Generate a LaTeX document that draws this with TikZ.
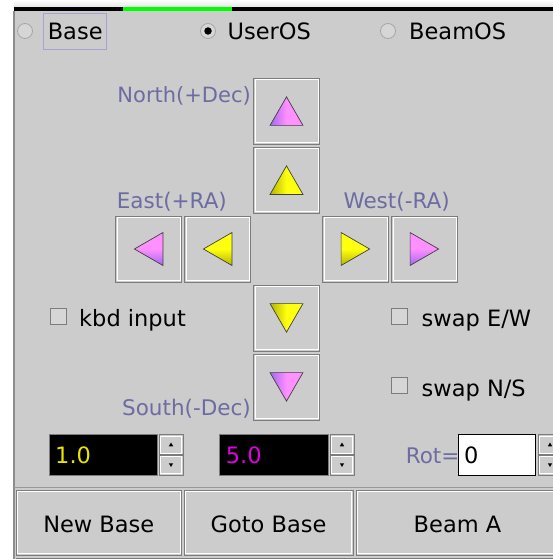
\documentclass[tikz,border=0pt]{standalone}
\usepackage{fontspec}
\setmainfont{DejaVu Sans}
\usetikzlibrary{matrix,shapes.geometric}

\definecolor{panel}{HTML}{CCCCCC}
\definecolor{edge}{HTML}{7C7C7C}
\definecolor{dirtext}{HTML}{6C6CA2}
\definecolor{magdark}{HTML}{A466F2}
\definecolor{maglight}{HTML}{FF90FF}
\definecolor{yeldark}{HTML}{B4B400}
\definecolor{yellight}{HTML}{FFFF10}
\definecolor{numyel}{HTML}{E6E600}
\definecolor{nummag}{HTML}{E000E0}
\definecolor{focus}{HTML}{A4A4D4}
\definecolor{boxfill}{HTML}{D6D6D6}

\begin{document}
\begin{tikzpicture}[x=1pt,y=-1pt,font=\fontsize{22.5}{27}\selectfont,
    btn/.style={draw=edge, fill=panel, line width=1pt, inner sep=0pt,
      path picture={\draw[white, line width=1pt]
        ([shift={(1.5pt,-1.5pt)}]path picture bounding box.north west) rectangle
        ([shift={(-1.5pt,1.5pt)}]path picture bounding box.south east);}},
    pad/.style={matrix of nodes, nodes={btn, minimum size=66pt}, column sep=2pt, row sep=2pt},
    txt/.style={anchor=base west, inner sep=0pt},
    dir/.style={txt, text=dirtext, font=\fontsize{21.5}{26}\selectfont},
    tri/.style={regular polygon, regular polygon sides=3, minimum size=38pt, inner sep=0pt,
      draw=black!75, line width=0.7pt},
    magv/.style={tri, left color=magdark, right color=maglight, middle color=maglight},
    yelv/.style={tri, left color=yeldark, right color=yellight, middle color=yellight},
    magh/.style={tri, bottom color=magdark, top color=maglight, middle color=maglight},
    yelh/.style={tri, bottom color=yeldark, top color=yellight, middle color=yellight},
    radio/.style={circle, draw=black!35, fill=boxfill, minimum size=15pt, inner sep=0pt, line width=0.8pt},
    chk/.style={draw=edge, fill=boxfill, minimum size=16pt, inner sep=0pt, line width=0.8pt},
    field/.style={draw=edge, fill=black, line width=1pt, minimum height=41pt, inner sep=0pt},
    spin/.style={btn, minimum width=24pt, minimum height=20pt},
    tick/.style={regular polygon, regular polygon sides=3, fill=black, minimum size=5pt, inner sep=0pt},
    wide/.style={btn, minimum height=65pt, text depth=0pt, text height=20.4pt}
  ]
  \path[use as bounding box, clip] (0,0) rectangle (553,559);
  \fill[white] (0,0) rectangle (553,559);
  \shade[top color=white, bottom color=black!12] (14,0) rectangle (553,8);
  \fill[panel] (14,11.5) rectangle (553,559);
  \fill[black] (14,7.5) rectangle (553,11.5);
  \fill[green] (123,7.5) rectangle (232,11.5);
  \draw[black!45, line width=1.2pt] (14,11.5) -- (14,559);

  % frame selector
  \node[radio] (rbase) at (25,31) {};
  \node[txt] (lbase) at (47.6,39.5) {Base};
  \draw[focus, line width=1pt] (43.3,13.3) rectangle (106.7,49.3);
  \node[radio] (ruser) at (208,31) {};
  \node[circle, fill=black, minimum size=7.5pt, inner sep=0pt] (rdot) at (ruser) {};
  \node[txt] (luser) at (227.5,39.5) {UserOS};
  \node[radio] (rbeam) at (388,31) {};
  \node[txt] (lbeam) at (409,39.5) {BeamOS};

  % direction pad
  \matrix[pad] (pad) at (286.5,249) {
    & & \phantom{x} & & \\
    & & \phantom{x} & & \\
    \phantom{x} & \phantom{x} & & \phantom{x} & \phantom{x} \\
    & & \phantom{x} & & \\
    & & \phantom{x} & & \\
  };
  \node[magv] (tnorth2) at ([yshift=-4.9pt]pad-1-3) {};
  \node[yelv] (tnorth1) at ([yshift=-4.9pt]pad-2-3) {};
  \node[magh, shape border rotate=90] (teast2) at ([xshift=4.9pt]pad-3-1) {};
  \node[yelh, shape border rotate=90] (teast1) at ([xshift=4.9pt]pad-3-2) {};
  \node[yelh, shape border rotate=270] (twest1) at ([xshift=-4.9pt]pad-3-4) {};
  \node[magh, shape border rotate=270] (twest2) at ([xshift=-4.9pt]pad-3-5) {};
  \node[yelv, shape border rotate=180] (tsouth1) at ([yshift=4.9pt]pad-4-3) {};
  \node[magv, shape border rotate=180] (tsouth2) at ([yshift=4.9pt]pad-5-3) {};

  \node[dir, anchor=base east, font=\fontsize{21}{25}\selectfont] (lnorth) at (251,102.5) {North(+Dec)};
  \node[dir] (least) at (116.7,208.3) {East(+RA)};
  \node[dir] (lwest) at (343.3,208.3) {West(-RA)};
  \node[dir, anchor=base east] (lsouth) at (251,415) {South(-Dec)};

  % options
  \node[chk] (ckbd) at (58.5,316.5) {};
  \node[txt] (lkbd) at (79,326.7) {kbd input};
  \node[chk] (cswapew) at (399.5,316.5) {};
  \node[txt] (lswapew) at (421.5,326.7) {swap E/W};
  \node[chk] (cswapns) at (399.5,385) {};
  \node[txt] (lswapns) at (421.5,396) {swap N/S};

  % step sizes
  \node[field, minimum width=108pt] (step1) at (103,454.5) {};
  \node[txt, text=numyel] (vstep1) at (55,463.3) {1.0};
  \node[spin] (up1) at (171,444.5) {};
  \node[spin] (dn1) at (171,465) {};
  \node[tick] (up1t) at ([yshift=-0.5pt]up1) {};
  \node[tick, shape border rotate=180] (dn1t) at ([yshift=0.5pt]dn1) {};

  \node[field, minimum width=109pt] (step2) at (273.5,454.5) {};
  \node[txt, text=nummag] (vstep2) at (225.7,463.3) {5.0};
  \node[spin] (up2) at (342,444.5) {};
  \node[spin] (dn2) at (342,465) {};
  \node[tick] (up2t) at ([yshift=-0.5pt]up2) {};
  \node[tick, shape border rotate=180] (dn2t) at ([yshift=0.5pt]dn2) {};

  \node[dir] (lrot) at (405.6,463.3) {Rot=};
  \node[field, fill=white, draw=black, minimum width=76.5pt] (rot) at (496.8,454.5) {};
  \node[txt] (vrot) at (464,463.3) {0};
  \node[spin] (up3) at (550,444.5) {};
  \node[spin] (dn3) at (550,465) {};
  \node[tick] (up3t) at ([yshift=-0.5pt]up3) {};
  \node[tick, shape border rotate=180] (dn3t) at ([yshift=0.5pt]dn3) {};

  \draw[black!40, line width=1pt] (14,487.5) -- (553,487.5);

  % bottom buttons
  \node[wide, minimum width=165.6pt] (newbase) at (98.8,522.5) {New Base};
  \node[wide, minimum width=169pt] (gotobase) at (268.5,522.5) {Goto Base};
  \node[wide, minimum width=203pt] (beama) at (457.5,522.5) {Beam A};
  \draw[edge, line width=1pt] (16,558) -- (553,558);
\end{tikzpicture}
\end{document}
